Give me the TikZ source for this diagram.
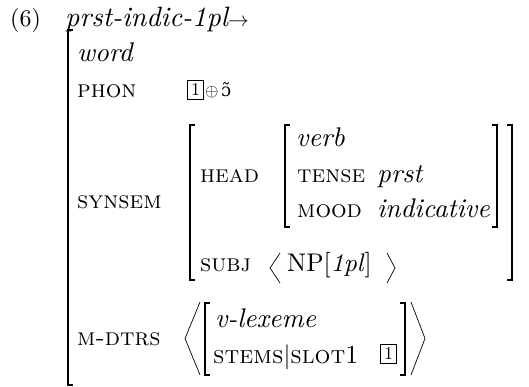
\documentclass[tikz,border=0pt]{standalone}
\usepackage{fontspec}
% one design size of Latin Modern at every point size
\setmainfont{lmroman10}[
  Extension=.otf,
  UprightFont=*-regular,
  ItalicFont=*-italic,
  BoldFont=*-bold,
  SmallCapsFont=lmromancaps10-regular]
\newfontfamily\ipafont{DejaVu Serif}
\begin{document}
\begin{tikzpicture}[x=1pt,y=-1pt]
\useasboundingbox (0,0) rectangle (529,387);
\tikzset{
  txt/.style={anchor=base west, inner sep=0pt, font=\fontsize{24}{28}\selectfont},
  lbl/.style={txt, font=\fontsize{24.5}{29}\selectfont\scshape},
  val/.style={txt, font=\fontsize{27}{31}\selectfont\itshape},
  brk/.style={line width=1.2pt},
  ang/.style={line width=0.7pt},
  tag/.style={draw, line width=1.5pt, inner sep=0pt, minimum width=16pt,
    minimum height=19pt, font=\fontsize{18}{20}\selectfont}
}
% example number and rule name
\node[txt] (num) at (10,27) {(6)};
\node[val, font=\fontsize{28}{32}\selectfont\itshape] (rule) at (65,27)
  {prst-indic-1pl\upshape\fontsize{20}{22}\selectfont$\rightarrow$};

% top level feature structure
\node[val] (word) at (77,62) {word};
\node[lbl] (phon) at (77,98) {phon};
\node[tag] (tagA) at (195.5,90) {1};
\node[txt] (oplus) at (205,97) {\fontsize{19}{21}\selectfont$\oplus$};
\node[txt] (nasal) at (221,97) {\ipafont\fontsize{18}{21}\selectfont ɔ̃};
\node[lbl] (synsem) at (77,208) {synsem};
\node[lbl] (mdtrs) at (77,345) {m-dtrs};

% SYNSEM value
\node[lbl] (head) at (200,183) {head};
\node[val] (verb) at (296,147) {verb};
\node[lbl] (tense) at (297,183) {tense};
\node[val] (prst) at (377,183) {prst};
\node[lbl] (mood) at (297,218) {mood};
\node[val] (indic) at (377,218) {indicative};
\node[lbl] (subj) at (200,271) {subj};
\node[txt, font=\fontsize{25.5}{30}\selectfont] (np) at (287,271) {NP[\textit{1pl}]};

% M-DTRS value
\node[val] (vlex) at (215,327) {v-lexeme};
\node[lbl, font=\fontsize{25}{29}\selectfont\scshape] (stems) at (213,363)
  {stems|slot\upshape\fontsize{26}{29}\selectfont 1};
\node[tag] (tagB) at (388.5,354) {1};

% brackets of the outer structure
\draw[brk] (73,30) -- (68,30) -- (68,385) -- (73,385);
% SYNSEM brackets
\draw[brk] (195,125) -- (190,125) -- (190,280) -- (195,280);
\draw[brk] (507,125) -- (512,125) -- (512,280) -- (507,280);
% HEAD brackets
\draw[brk] (290,125) -- (285,125) -- (285,227) -- (290,227);
\draw[brk] (492,125) -- (497,125) -- (497,227) -- (492,227);
% SUBJ list
\draw[ang] (280,253) -- (270,268) -- (280,283);
\draw[ang] (387,253) -- (395,268) -- (387,283);
% M-DTRS list with its one daughter
\draw[ang] (200,302) -- (185,338.5) -- (200,375);
\draw[brk] (210,303) -- (205,303) -- (205,375) -- (210,375);
\draw[brk] (400,303) -- (405,303) -- (405,375) -- (400,375);
\draw[ang] (411,302) -- (425,338.5) -- (411,375);
\end{tikzpicture}
\end{document}
